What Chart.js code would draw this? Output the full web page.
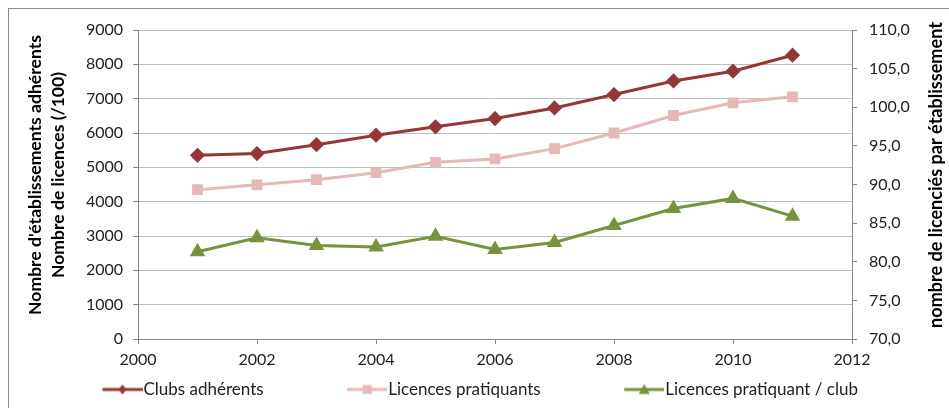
<!DOCTYPE html>
<html>
<head>
<meta charset="utf-8">
<script src="https://cdn.jsdelivr.net/npm/chart.js@4/dist/chart.umd.min.js"></script>
<style>
    html, body { margin: 0; padding: 0; background: #fff; overflow: hidden; }
    #wrap { position: relative; width: 949px; height: 408px; }
    #frame { position: absolute; left: 8px; top: 8px; width: 960px; height: 420px; border: 1px solid #8c8c8c; pointer-events: none; }
    canvas { position: absolute; left: 0; top: 0; }
</style>
</head>
<body>
<div id="wrap">
    <canvas id="chart" width="949" height="408"></canvas>
    <div id="frame"></div>
</div>
<script>
// ------------------------------------------------------------------
// Data
// ------------------------------------------------------------------
const YEARS = [2001, 2002, 2003, 2004, 2005, 2006, 2007, 2008, 2009, 2010, 2011];
const CLUBS = [5350, 5400, 5660, 5935, 6180, 6420, 6730, 7120, 7515, 7800, 8265];
const LICENCES = [4350, 4490, 4640, 4845, 5145, 5245, 5545, 6000, 6510, 6880, 7055];
const PER_CLUB = [81.3, 83.1, 82.1, 81.9, 83.3, 81.6, 82.5, 84.7, 86.9, 88.2, 85.9];

const LABELS = ['Clubs adhérents', 'Licences pratiquants', 'Licences pratiquant / club'];
const LEFT_TITLE = ["Nombre d'établissements adhérents", 'Nombre de licences (/100)'];
const RIGHT_TITLE = 'nombre de licenciés par établissement';

const COLORS = ['#953735', '#e6b9b8', '#77933c'];
const FONT = 'Lato, "Open Sans", sans-serif';

// legend geometry: box width, and the swatch image is a bit wider so the
// line runs right up to the text like in the original
const BOX_W = 106;
const IMG_W = BOX_W + 15;
const SW = 40; // visible swatch length

function to_points(values) {
    return YEARS.map((y, i) => ({ x: y, y: values[i] }));
}

function make_swatch(color, shape) {
    const c = document.createElement('canvas');
    c.width = IMG_W; c.height = 14;
    const ctx = c.getContext('2d');
    const o = IMG_W - SW;
    const m = o + SW / 2;
    ctx.strokeStyle = color;
    ctx.fillStyle = color;
    ctx.lineWidth = 3;
    ctx.beginPath(); ctx.moveTo(o, 7); ctx.lineTo(o + SW, 7); ctx.stroke();
    ctx.beginPath();
    if (shape === 'diamond') {
        ctx.moveTo(m, 2); ctx.lineTo(m + 4, 7); ctx.lineTo(m, 12); ctx.lineTo(m - 4, 7);
    } else if (shape === 'square') {
        ctx.rect(m - 4.5, 2.5, 9, 9);
    } else {
        ctx.moveTo(m, 1.5); ctx.lineTo(m + 5.5, 11.5); ctx.lineTo(m - 5.5, 11.5);
    }
    ctx.closePath(); ctx.fill();
    return c;
}

const SWATCHES = [
    make_swatch(COLORS[0], 'diamond'),
    make_swatch(COLORS[1], 'square'),
    make_swatch(COLORS[2], 'triangle'),
];

// axis titles drawn by hand (right one reads bottom-to-top), each fitted to its length
const axisTitles = {
    id: 'axisTitles',
    afterDraw(chart) {
        const ctx = chart.ctx;
        const cy = 175;
        ctx.save();
        ctx.fillStyle = '#000';
        ctx.textAlign = 'center';
        ctx.textBaseline = 'middle';
        [[35, LEFT_TITLE[0], 280], [58, LEFT_TITLE[1], 0], [936, RIGHT_TITLE, 306]].forEach(([x, txt, len], i) => {
            let size = 16;
            if (len) {
                ctx.font = 'bold 16px ' + FONT;
                size = 16 * len / ctx.measureText(txt).width;
                if (i === 0) axisTitles.leftSize = size;
            } else {
                size = axisTitles.leftSize || 16;
            }
            ctx.font = 'bold ' + size.toFixed(2) + 'px ' + FONT;
            ctx.save();
            ctx.translate(x, cy);
            ctx.rotate(-Math.PI / 2);
            ctx.fillText(txt, 0, 0);
            ctx.restore();
        });
        ctx.restore();
    },
};

const tickFont = { family: FONT, size: 16 };

new Chart(document.getElementById('chart'), {
    type: 'line',
    data: {
        datasets: [
            {
                label: LABELS[0], data: to_points(CLUBS), yAxisID: 'y',
                borderColor: COLORS[0], backgroundColor: COLORS[0], borderWidth: 3,
                pointStyle: 'rectRot', pointRadius: 5.5, pointHoverRadius: 5.5,
            },
            {
                label: LABELS[1], data: to_points(LICENCES), yAxisID: 'y',
                borderColor: COLORS[1], backgroundColor: COLORS[1], borderWidth: 3,
                pointStyle: 'rect', pointRadius: 5.5, pointHoverRadius: 5.5,
            },
            {
                label: LABELS[2], data: to_points(PER_CLUB), yAxisID: 'y2',
                borderColor: COLORS[2], backgroundColor: COLORS[2], borderWidth: 3,
                pointStyle: 'triangle', pointRadius: 6, pointHoverRadius: 6,
            },
        ],
    },
    options: {
        responsive: false,
        animation: false,
        layout: { padding: { top: 30, left: 19, right: 0, bottom: 0 } },
        scales: {
            x: {
                type: 'linear', min: 2000, max: 2012,
                ticks: { stepSize: 2, color: '#222', font: tickFont, padding: 6, callback: v => String(v) },
                grid: { drawOnChartArea: false, drawTicks: true, tickLength: 5, color: '#868686' },
                border: { color: '#868686' },
                afterFit: s => { s.height = 32; },
            },
            y: {
                position: 'left', min: 0, max: 9000,
                ticks: { stepSize: 1000, color: '#222', font: tickFont, padding: 10, callback: v => String(v) },
                grid: { color: '#bfbfbf', tickColor: '#868686', tickLength: 5 },
                border: { color: '#868686' },
                afterFit: s => { s.width = 119; },
            },
            y2: {
                position: 'right', min: 70, max: 110,
                ticks: { stepSize: 5, color: '#222', font: tickFont, padding: 12, callback: v => v.toFixed(1).replace('.', ',') },
                grid: { drawOnChartArea: false, color: '#868686', tickLength: 5 },
                border: { color: '#868686' },
                afterFit: s => { s.width = 97; },
            },
        },
        plugins: {
            tooltip: { enabled: false },
            legend: {
                position: 'bottom',
                align: 'start',
                labels: {
                    usePointStyle: true,
                    pointStyleWidth: BOX_W,
                    padding: 10,
                    color: '#222',
                    font: { family: FONT, size: 17 },
                    generateLabels: chart => chart.data.datasets.map((ds, i) => ({
                        text: ds.label,
                        pointStyle: SWATCHES[i],
                        fontColor: '#222',
                        datasetIndex: i,
                        hidden: false,
                        lineWidth: 0,
                    })),
                },
            },
        },
    },
    plugins: [axisTitles],
});
</script>
</body>
</html>
